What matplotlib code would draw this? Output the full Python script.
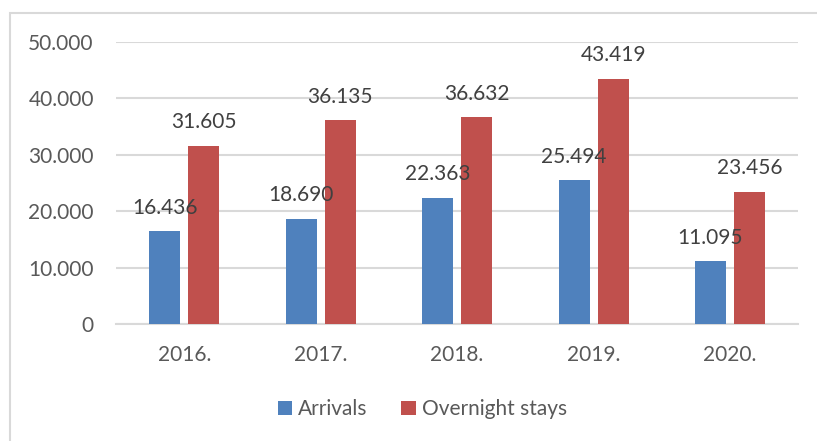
import matplotlib.pyplot as plt
import numpy as np
from matplotlib.patches import Rectangle

years = ['2016.', '2017.', '2018.', '2019.', '2020.']
arrivals = [16436, 18690, 22363, 25494, 11095]
overnight = [31605, 36135, 36632, 43419, 23456]
yticks = [0, 10000, 20000, 30000, 40000, 50000]

blue = '#4F81BD'
red = '#C0504D'
grid = '#D9D9D9'
text = '#595959'


def fmt(v):
    return f'{v:,}'.replace(',', '.')


plt.rcParams['font.family'] = ['Lato', 'DejaVu Sans']

fig = plt.figure(figsize=(8.17, 4.41), dpi=100)
ax = fig.add_axes([0.142, 0.2653, 0.835, 0.6395])

x = np.arange(len(years))
w = 0.227
off = 0.143
b1 = ax.bar(x - off, arrivals, w, color=blue, label='Arrivals', zorder=3)
b2 = ax.bar(x + off, overnight, w, color=red, label='Overnight stays', zorder=3)

for bars, vals in [(b1, arrivals), (b2, overnight)]:
    for rect, v in zip(bars, vals):
        ax.annotate(fmt(v), (rect.get_x() + rect.get_width() / 2, v),
                    xytext=(0, 17), textcoords='offset points',
                    ha='center', va='center', fontsize=15, color='#404040',
                    zorder=4)

ax.set_xlim(-0.5, len(years) - 0.5)
ax.set_ylim(0, 50000)
ax.set_yticks(yticks)
ax.set_yticklabels([fmt(t) for t in yticks])
ax.set_xticks(x)
ax.set_xticklabels(years)
ax.tick_params(length=0, labelsize=15, colors=text)
ax.tick_params(axis='y', pad=16)
ax.tick_params(axis='x', pad=15)
ax.yaxis.grid(True, color=grid, linewidth=1.5, zorder=0)
ax.set_axisbelow(True)
for s in ['top', 'right', 'left']:
    ax.spines[s].set_visible(False)
ax.spines['bottom'].set_color(grid)
ax.spines['bottom'].set_linewidth(1.5)

leg = fig.legend(loc='center', bbox_to_anchor=(0.517, 0.072), ncol=2,
                 frameon=False, fontsize=15, handlelength=0.7,
                 handleheight=0.7, handletextpad=0.3, columnspacing=1.6)
for t in leg.get_texts():
    t.set_color(text)

fig.patches.append(Rectangle((10 / 817, -0.1), 1.2, (441 - 13) / 441 + 0.1,
                             transform=fig.transFigure, fill=False,
                             edgecolor=grid, linewidth=1.5))

fig.savefig('out.png', dpi=100)
